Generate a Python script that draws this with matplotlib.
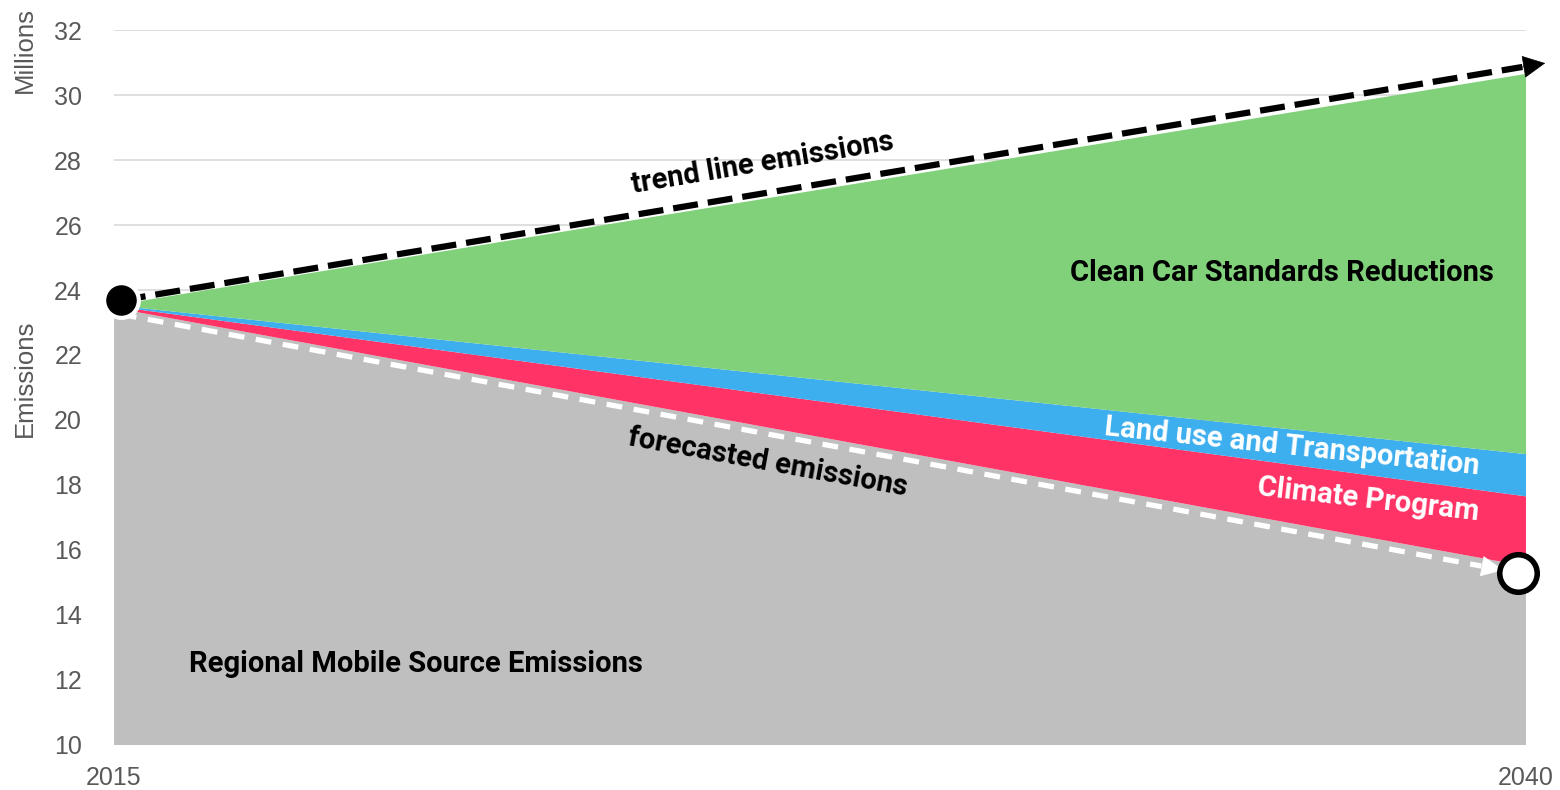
import matplotlib
matplotlib.use("Agg")
import matplotlib.pyplot as plt

# ---- data ----
years = [2015, 2040]
regional_mobile = [23.45, 15.5]
climate_program = [0.05, 2.15]
land_use_transport = [0.03, 1.3]
clean_car = [0.0, 11.7]
trend_start = (2015.12, 23.68)
trend_end = (2040.34, 30.98)
forecast_start = (2015.12, 23.25)
forecast_end = (2039.6, 15.38)
end_point = (2039.86, 15.29)
yticks = [10, 12, 14, 16, 18, 20, 22, 24, 26, 28, 30, 32]
xticks = [2015, 2040]

c_gray = "#BFBFBF"
c_red = "#FF3366"
c_blue = "#3DAEEE"
c_green = "#80D17A"
tick_col = "#595959"

fig = plt.figure(figsize=(15.6, 7.9), dpi=100)
ax = fig.add_axes([0.0731, 0.057, 0.9051, 0.905])

ax.stackplot(years, regional_mobile, climate_program, land_use_transport, clean_car,
             colors=[c_gray, c_red, c_blue, c_green], linewidth=0, zorder=2)

ax.set_xlim(2015, 2040)
ax.set_ylim(10, 32)
ax.set_yticks(yticks)
ax.set_xticks(xticks)
ax.grid(axis="y", color="#D9D9D9", linewidth=1.2, zorder=0)
ax.set_axisbelow(True)
for s in ax.spines.values():
    s.set_visible(False)
ax.tick_params(axis="both", length=0, labelsize=18, labelcolor=tick_col)
ax.tick_params(axis="y", pad=23)
ax.tick_params(axis="x", pad=15)
for lab in ax.get_xticklabels() + ax.get_yticklabels():
    lab.set_fontfamily(["Liberation Sans", "DejaVu Sans"])

fig.text(0.016, 0.521, "Emissions", rotation=90, ha="center", va="center",
         fontsize=18.5, color=tick_col, family=["Liberation Sans", "DejaVu Sans"])
fig.text(0.016, 0.937, "Millions", rotation=90, ha="center", va="center",
         fontsize=18.5, color=tick_col, family=["Liberation Sans", "DejaVu Sans"])


def dashed_arrow(p0, p1, color, lw, dashes, head_len_frac, hl, hw):
    # dashed shaft up to the start of the head, then a solid head
    hx = p1[0] - (p1[0] - p0[0]) * head_len_frac
    hy = p1[1] - (p1[1] - p0[1]) * head_len_frac
    ax.plot([p0[0], hx], [p0[1], hy], color=color, lw=lw, dashes=dashes,
            solid_capstyle="butt", dash_capstyle="butt", zorder=5, clip_on=False)
    ax.annotate("", xy=p1, xytext=(hx, hy), annotation_clip=False, zorder=5,
                arrowprops=dict(arrowstyle=f"-|>,head_length={hl},head_width={hw}",
                                color=color, lw=0.5, shrinkA=0, shrinkB=0))


dashed_arrow(trend_start, trend_end, "black", 4.5, (4.0, 1.6), 0.016, 1.5, 0.75)
dashed_arrow(forecast_start, forecast_end, "white", 3.8, (3.0, 2.2), 0.016, 1.5, 0.7)

ax.plot([trend_start[0]], [trend_start[1]], "o", ms=25, mfc="black", mec="white", mew=3,
        zorder=6, clip_on=False)
ax.plot([end_point[0]], [end_point[1]], "o", ms=27, mfc="white", mec="black", mew=4,
        zorder=6, clip_on=False)

fam = ["Roboto", "DejaVu Sans"]
fs = 21
ax.text(2035.68, 24.52, "Clean Car Standards Reductions", ha="center", va="center",
        fontsize=fs, fontweight="bold", color="black", family=fam, zorder=7)
ax.text(2020.35, 12.49, "Regional Mobile Source Emissions", ha="center", va="center",
        fontsize=fs, fontweight="bold", color="black", family=fam, zorder=7)
ax.text(2026.49, 27.91, "trend line emissions", ha="center", va="center", rotation=9.5,
        rotation_mode="anchor", fontsize=fs, fontweight="bold", color="black", family=fam, zorder=7)
ax.text(2026.58, 18.68, "forecasted emissions", ha="center", va="center", rotation=-10.3,
        rotation_mode="anchor", fontsize=fs, fontweight="bold", color="black", family=fam, zorder=7)
ax.text(2035.86, 19.17, "Land use and Transportation", ha="center", va="center", rotation=-6,
        rotation_mode="anchor", fontsize=fs, fontweight="bold", color="white", family=fam, zorder=7)
ax.text(2037.2, 17.54, "Climate Program", ha="center", va="center", rotation=-6.5,
        rotation_mode="anchor", fontsize=fs, fontweight="bold", color="white", family=fam, zorder=7)

fig.savefig("out.png", dpi=100)
